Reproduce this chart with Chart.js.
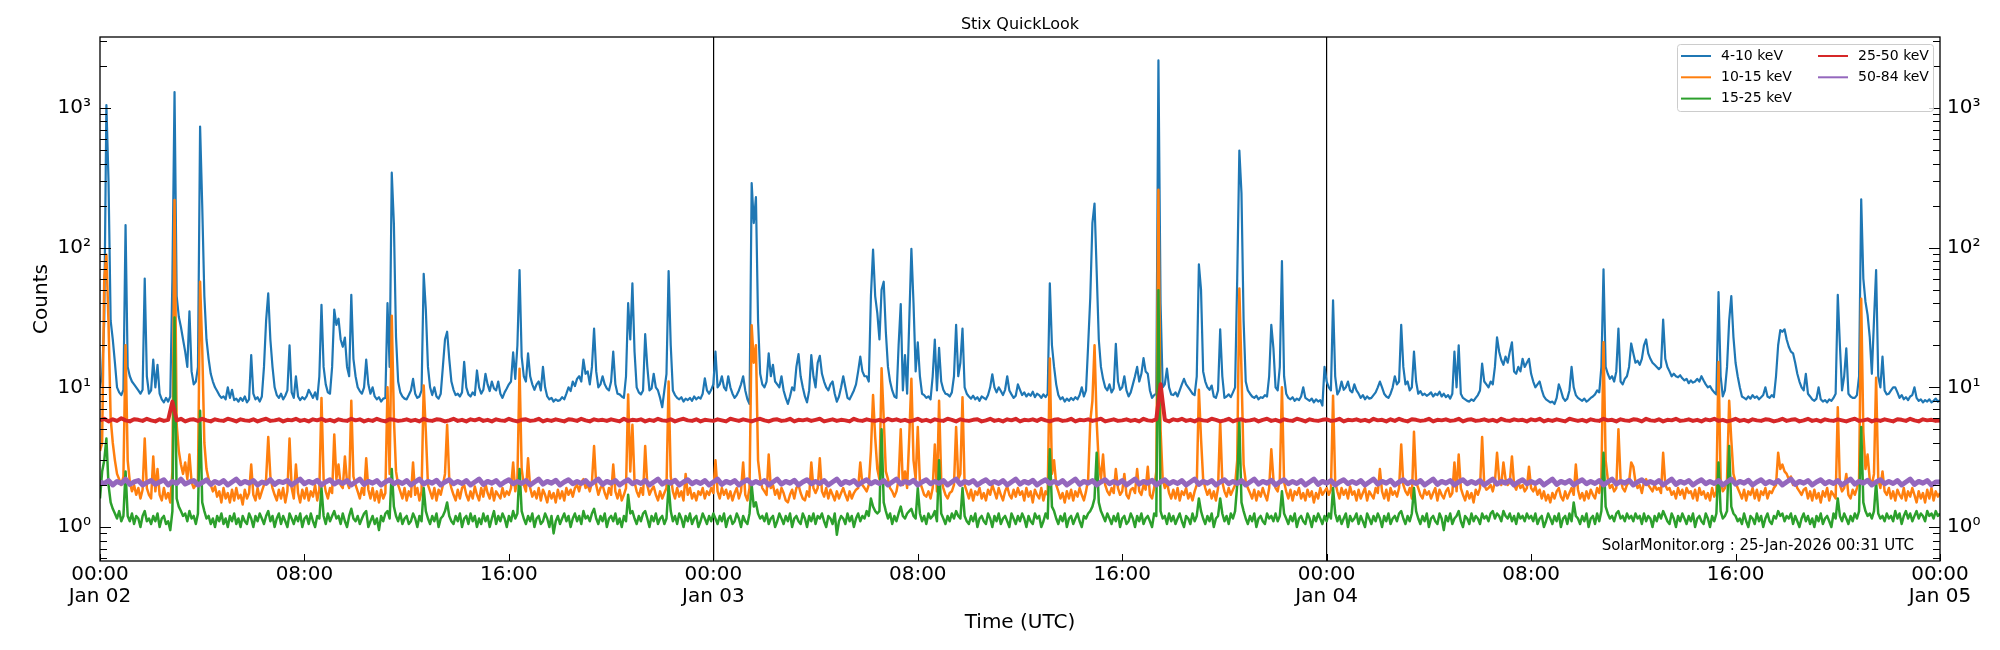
<!DOCTYPE html>
<html><head><meta charset="utf-8">
<script src="https://cdn.jsdelivr.net/npm/chart.js@4.4.1/dist/chart.umd.min.js"></script>
<style>html,body{margin:0;padding:0;background:#fff}#wrap{width:2000px;height:650px;position:relative}</style>
</head><body><div id="wrap"><canvas id="c"></canvas></div>
<script>
// ---- data: samples from Jan 02 00:00 UTC; one row = 2 hours ----
const seriesLabels = ['4-10 keV','10-15 keV','15-25 keV','25-50 keV','50-84 keV'];
const fastStepMinutes = 5;   // 4-10, 10-15, 15-25 keV
const slowStepMinutes = 10;  // 25-50, 50-84 keV
const counts4to10 = [
10,12.5,30,1050,300,30,22,15,10,9.2,8.8,9.6,145,14,12,11,10.5,10,9.5,9,9.6,60,12,9,
9.5,15.8,10,14.5,9,8.2,7.8,8.4,7.9,8.6,60,1300,45,32,27,22,18,14,35,13,10.5,11,14,735,
200,45,22,16,12.5,11,10,9.4,8.8,8.4,8.6,8.2,10,8.4,9.6,8.1,8.3,7.9,8.4,8.0,8.6,7.8,8.2,17,
9,8.2,8.5,7.9,8.6,14,30,47,22,14,10,8.8,8.4,9,8.2,8.7,9.5,20,9.2,8.4,12,8.6,8.1,8.5,
8.2,8.6,9.6,9,8.4,9.2,8.2,12,39,14,10.5,9.2,9,14,36,28,31,22,19.5,22.7,14,12,46,16,
12,10,9.4,9,10,15.8,10.5,9,10,8.6,8.2,8.5,7.9,8.3,8.4,40,14,344,148,23,11,9.2,8.6,8.3,
8.2,8.8,9.5,11.5,9,8.4,8.6,9.5,65,36,14,10,8.8,10,8.6,8.3,9,14,22,25,16,11,9.6,8.8,
9,8.6,9.2,15.2,10,8.9,8.6,9.2,8.8,13.2,10,9,9.6,12.5,10.5,9.4,11,9.8,9.5,11,9,8.4,9.2,9.8,
10.5,11,17.8,11.5,20,69,16.6,12,11,17.5,12,10.5,9.6,10.5,11,9.5,14,10,8.6,8.2,8.4,7.9,8.2,8.0,
8.1,8.5,8.2,9,10,9.4,11,10.2,11.5,12,11,15.8,12.5,13,10.5,14,26.3,13,10,10.5,12,10.5,9.8,9.5,
11,18,10.5,9,8.9,8.6,8.4,12,40,22,55.5,18,10,9.2,8.9,9.5,24,14,9.5,9.8,12.5,10,9.5,8.4,
7.2,9.5,12.5,68,20,9.5,8.8,8.4,8.2,8.5,7.9,8.3,8.1,8.4,8.0,8.6,8.2,8.5,8.3,9,11.6,9.5,9,9.6,
10.5,18,10,10.5,12,10,9.5,12,10,9,8.4,8.8,9.5,10.5,12,9.5,8.2,7.6,290,150,230,30,12.5,10.5,
10,11,17.5,12,14.5,11,10.5,10,12,9.5,8.4,7.6,8.6,10,9.5,14,17.3,12,10,8.6,7.8,9.5,17,12,
10,15,16.8,12.5,11,10,9.5,10.5,11,9,7.9,8.6,10,12,10,8.4,8.2,8.8,9.5,10.5,13,16.6,13,12,
12,11,45,97,45,34,22,50,57,25,14,11,9.5,8.6,8.4,20,39.5,9.5,17,9,30,98,40,13,
21,12,9,8.8,8.4,8.6,8.2,12,22,9.5,19.2,11,9.6,9,8.9,8.6,9.2,12,28,12,15,26.3,10,9,
8.6,8.3,8.7,8.2,8.5,8.0,8.6,8.4,8.2,8.8,10,12.4,10,9.2,10,9.4,8.8,9.6,12,9.5,8.9,8.4,8.7,10.5,
9.6,8.8,9.2,8.6,9,8.7,9.3,8.5,9,8.8,8.4,8.9,8.5,9,55.5,20,14,10.5,8.8,8.2,8.5,7.9,8.3,8.0,
8.4,8.1,8.5,8.2,8.8,10,8.6,9.5,20,44,150,207,68,22,14,11.5,10,9.5,10.5,9.2,9.8,20.5,11,9.6,
10,12,9.5,8.6,9.2,10.5,12,14,11,12.5,16.2,13,12.5,9.5,8.4,8.8,9,2190,40,10,10.5,13.6,10,8.9,
8.8,9.2,8.6,9.5,10.5,11.5,10.5,10,9.5,9,8.8,12,76,50,13,11,10,9.6,10.3,8.6,8.4,9.5,26,12,
8.4,8.6,8.9,8.5,9.2,10,60,495,245,30,11,9.5,9,8.6,8.4,8.7,8.2,8.5,8.4,8.8,8.6,12,28,19,
10,9.5,14,80,12,9,8.4,8.2,8.5,8.0,8.3,8.1,8.6,10,8.4,8.2,8.0,8.3,7.8,8.2,7.9,8.1,7.4,14,
11,10,9.5,42,12,8.9,9.5,11,9.6,10,11,9.5,9.2,10.5,9.5,9,8.4,8.8,8.2,8.6,8.3,8.4,8.8,9.2,
10,11,10,9,8.6,8.4,9,10,12,10.5,11,28,14,10.5,11,9.5,10,18,11,9,9.4,8.8,9,8.7,
8.9,9.2,8.6,9,8.8,9.3,8.6,9,8.5,8.8,8.3,9,18,10,20,9,8.4,8.2,8.0,7.9,8.2,8.0,8.4,8.8,
9.5,14.8,11,10.5,10,11,10.5,14,22.8,18,15.7,14.5,16.6,15,18,21,13,12.5,14,13,16,14,15,16,
12.5,11,10,10.5,11,9.6,8.6,8.2,8.0,7.8,7.9,7.6,8.4,10.5,9.5,8.4,8.0,8.3,9.5,14,10,8.8,8.4,8.2,
8.0,8.3,7.9,8.1,8.4,8.6,8.9,9.5,9.2,14,70,14,12.5,11.5,12,11,13,26.3,11,10.5,11.5,12,14,20.6,
17.5,15,15.5,14.5,16,20,22,17.5,16,15,14.5,14,13.5,14,30.5,16,14,13,12,12.5,12,11.8,12.2,11.6,
11.2,11.5,10.7,11.2,10.8,11,11.5,11,12,11.2,10.5,10,10.2,9.6,9.2,8.9,48,12,8.6,9.5,14,30,45,23,
15,12,10,8.6,8.4,8.2,8.6,8.3,8.8,8.4,8.6,8.2,8.5,8.8,10,8.6,8.4,8.8,8.5,12,20,25.7,25,26,
22,19.5,18,17.5,15,12.5,11,10,9.5,12.5,9,8.6,8.2,8.0,8.3,10,8.2,7.9,8.1,7.8,8.2,8.0,8.4,9,
46,20,9.5,12,19,9,8.6,8.4,8.4,8.8,12,222,60,41,33,23,12.5,30,69,12,10,16.6,9.5,8.9,
9,9.5,10,10,9.2,8.4,8.8,8.2,8.5,8.1,8.6,8.8,10,8.4,8.0,8.2,7.8,8.1,7.9,8.2,7.8,8.0,8.3,7.9,
8.1];
const counts10to15 = [
3.5,4,60,89,29,6,4,3,2.4,2.2,2.0,2.3,20,3,2.1,1.8,2.0,1.7,1.9,1.6,1.85,4.3,1.9,1.7,
1.6,3.2,1.8,2.6,1.7,1.55,1.9,1.6,1.75,1.5,2.5,219,5.4,3.5,2.8,2.4,2.9,2.2,3.3,2.1,1.9,2.0,2.2,57,
19,4,2.6,2.2,2.0,1.8,1.95,1.65,1.8,1.5,1.9,1.6,1.75,1.5,1.85,1.55,1.9,1.6,1.7,1.45,1.85,1.6,1.75,2.8,
1.7,1.55,1.9,1.6,1.8,2.0,2.2,4.4,2.3,1.9,1.7,1.55,1.85,1.6,1.9,1.5,1.8,4.3,1.9,1.6,2.8,1.75,1.5,1.85,
1.6,1.9,1.55,1.8,1.65,2.0,1.55,1.85,8.4,2.2,1.8,1.6,1.9,1.75,4.6,2.2,2.8,2.0,1.9,3.2,2.1,1.9,8.0,2.3,
2.0,1.8,1.6,1.9,1.7,3.1,1.85,1.6,1.9,1.55,1.8,1.5,1.85,1.6,1.75,10,2.4,32.5,6,2.5,2.0,1.8,1.6,1.9,
1.55,1.8,1.65,2.9,1.7,1.9,1.55,1.8,10.3,4.8,2.0,1.8,1.6,1.9,1.55,1.85,1.7,2.0,2.4,5.4,2.2,1.9,1.7,1.55,
1.85,1.6,1.9,2.0,1.7,1.55,1.8,1.6,1.95,1.7,1.55,1.9,1.65,2.05,1.75,1.6,1.9,1.55,1.8,1.7,1.6,1.9,1.65,1.8,
1.7,1.9,2.9,1.8,2.2,13.6,2.6,2.0,1.8,3.1,1.9,1.65,1.8,1.6,1.9,1.55,1.85,1.7,1.5,1.8,1.6,1.75,1.5,1.85,
1.6,1.8,1.55,1.9,1.7,1.85,1.65,1.9,2.0,1.8,2.1,2.2,1.9,2.0,1.8,2.1,3.8,2.0,1.7,1.9,2.0,1.75,1.6,1.9,
1.7,2.8,1.8,1.6,1.85,1.55,1.7,1.9,8.9,2.5,5.4,2.1,1.8,1.65,1.9,1.7,3.8,2.0,1.7,1.85,1.95,1.7,1.55,1.8,
1.6,1.75,1.9,11,2.3,1.8,1.6,1.9,1.65,1.8,1.55,2.4,1.7,1.9,1.6,1.75,1.55,1.8,1.7,1.9,1.6,1.8,1.7,1.9,
1.75,3.0,1.8,1.6,1.9,1.7,1.85,1.6,1.8,1.55,1.75,1.9,1.6,1.8,2.9,1.7,1.55,1.9,27.8,15,20,3.0,2.2,1.9,
1.8,1.7,3.3,1.9,2.0,1.7,1.85,1.6,1.9,1.75,1.55,1.5,1.7,1.85,1.6,1.9,2.0,1.75,1.6,1.55,1.8,1.65,2.9,1.9,
1.75,1.9,3.1,1.8,1.65,1.9,1.6,1.85,1.7,1.55,1.8,1.6,1.75,1.9,1.7,1.55,1.8,1.6,1.75,1.85,1.9,2.9,2.0,1.9,
1.8,2.0,3.5,8.8,4.4,2.6,2.2,13.7,6,2.5,2.2,1.9,1.8,1.65,1.8,2.2,5.0,2.0,2.5,1.9,4.4,11.5,3.0,2.2,
5.2,2.1,1.9,1.7,1.65,1.8,1.6,1.9,3.9,1.8,8.0,2.2,1.9,1.7,1.6,1.75,1.8,2.0,5.2,2.2,2.4,8.5,2.0,1.8,
1.6,1.85,1.55,1.8,1.7,1.9,1.6,1.75,1.55,1.85,1.7,2.0,1.8,1.6,1.9,1.7,1.55,1.8,1.95,1.7,1.6,1.85,1.65,1.9,
1.7,1.8,1.55,1.9,1.65,1.8,1.5,1.85,1.7,1.6,1.9,1.55,1.8,1.7,16.1,2.4,3.0,2.0,1.8,1.6,1.75,1.5,1.8,1.6,
1.85,1.55,1.8,1.65,1.9,1.7,1.55,1.8,2.2,5.7,8,20,5.7,2.8,2.2,3.3,2.0,1.8,1.7,1.9,1.75,2.6,1.9,1.7,
1.8,2.4,1.7,1.6,1.85,1.9,1.75,2.6,1.8,1.7,2.0,1.85,2.7,1.7,1.6,1.9,2.5,260,5,2.2,1.9,2.1,1.75,1.6,
1.85,1.6,1.9,1.55,1.8,1.7,1.9,1.6,1.75,1.55,1.8,2.0,9.6,4.3,2.2,1.9,1.7,1.85,1.6,1.8,1.55,1.9,5.7,2.1,
1.8,1.65,1.9,1.7,1.85,2.0,3,51,13,2.8,2.1,1.9,1.75,1.6,1.85,1.55,1.8,1.65,1.9,1.7,1.55,1.9,3.6,2.2,
1.9,1.8,2.2,10,2.1,1.8,1.6,1.85,1.55,1.8,1.7,1.9,1.6,1.75,1.55,1.85,1.65,1.8,1.5,1.75,1.6,1.9,1.7,1.8,
1.9,1.7,1.85,8.7,2.1,1.8,1.6,1.9,1.7,1.85,1.6,1.95,1.7,1.8,1.55,1.85,1.6,1.75,1.9,1.55,1.8,1.7,1.6,1.9,
1.75,2.6,1.8,1.6,1.85,1.55,1.9,1.7,1.8,1.65,1.9,3.9,2.0,1.8,1.7,1.9,1.6,4.8,2.1,1.9,1.7,1.6,1.85,1.7,
1.8,1.6,1.75,1.9,1.55,1.85,1.7,1.6,1.8,1.9,1.65,1.75,2.9,1.8,3.3,1.9,1.7,1.55,1.8,1.6,1.75,1.5,1.85,1.7,
1.9,4.4,2.0,1.85,1.9,2.0,1.8,2.1,3.4,2.2,2.0,2.9,2.2,2.0,2.1,3.2,2.0,1.85,2.1,1.9,2.0,1.8,1.9,2.7,
1.9,1.8,1.95,1.7,1.85,1.6,1.8,1.55,1.7,1.5,1.75,1.6,1.8,1.9,1.65,1.55,1.8,1.6,1.75,1.9,1.7,2.8,1.85,1.6,
1.75,1.55,1.8,1.6,1.85,1.7,1.6,1.9,1.75,2.2,21,3.0,2.2,1.9,2.0,1.8,1.9,5.0,2.2,1.9,1.8,2.0,2.1,2.9,
2.7,2.1,1.9,2.0,1.75,2.1,2.2,2.0,1.9,1.8,2.0,1.85,1.9,1.75,3.4,2.0,1.85,1.9,1.7,1.8,1.6,1.9,1.7,1.85,
1.6,1.9,1.75,1.8,1.6,1.85,1.55,1.9,1.7,1.8,1.6,1.75,1.55,1.9,1.65,1.8,15.2,2.2,1.8,1.9,2.2,8.0,4.2,2.4,
2.1,1.9,1.75,1.6,1.85,1.55,1.8,1.7,1.9,1.6,1.85,1.55,1.8,1.7,1.9,1.6,1.8,1.75,1.9,2.0,3.4,2.6,2.8,2.5,
2.4,2.2,2.3,2.0,2.1,1.9,1.8,1.7,1.85,1.9,1.6,1.8,1.55,1.85,1.6,1.75,1.5,1.8,1.65,1.9,1.55,1.8,1.7,1.6,
7.2,2.0,1.8,1.9,2.4,1.7,1.6,1.85,1.7,1.9,2.2,43,4.8,2.6,3.3,2.2,2.0,2.4,11.7,2.2,1.9,2.5,1.8,1.7,
1.9,1.6,1.8,1.55,1.85,1.7,1.6,1.9,1.55,1.8,1.65,1.9,1.7,1.5,1.8,1.6,1.75,1.5,1.85,1.6,1.9,1.55,1.8,1.65,
1.75];
const counts15to25 = [
1.6,2.5,3,4.3,2.0,1.5,1.35,1.25,1.15,1.3,1.1,1.2,2.5,1.2,1.1,1.25,1.05,1.2,1.15,1.0,1.2,1.3,1.1,1.15,
1.05,1.2,1.1,1.25,1.0,1.15,1.2,1.05,1.1,0.95,1.3,31.6,1.6,1.4,1.3,1.2,1.25,1.1,1.3,1.15,1.2,1.05,1.25,6.8,
1.5,1.3,1.15,1.2,1.05,1.15,1.0,1.2,1.1,1.25,1.05,1.15,1.0,1.2,1.1,1.25,1.05,1.15,1.0,1.2,1.1,1.05,1.25,1.15,
1.0,1.2,1.1,1.25,1.15,1.05,1.2,1.3,1.1,1.2,1.0,1.15,1.25,1.05,1.2,1.1,1.0,1.25,1.15,1.05,1.2,1.1,1.25,1.0,
1.15,1.2,1.05,1.25,1.1,1.0,1.2,1.15,1.9,1.2,1.05,1.25,1.1,1.2,1.3,1.15,1.2,1.05,1.25,1.1,1.0,1.2,1.35,1.15,
1.1,1.2,1.05,1.15,1.25,1.3,1.0,1.1,1.2,1.05,1.15,0.95,1.2,1.1,1.25,1.3,1.15,2.6,1.4,1.2,1.1,1.25,1.05,1.15,
1.2,1.05,1.1,1.25,1.15,1.0,1.2,1.1,1.9,1.3,1.15,1.05,1.2,1.1,1.25,1.0,1.15,1.2,1.3,1.5,1.2,1.1,1.05,1.2,
1.1,1.25,1.0,1.15,1.2,1.05,1.25,1.1,1.2,1.0,1.15,1.05,1.25,1.1,1.2,1.0,1.15,1.3,1.05,1.2,1.1,1.25,1.15,1.0,
1.2,1.1,1.3,1.15,1.25,2.6,1.3,1.15,1.05,1.2,1.1,1.25,1.0,1.15,1.2,1.05,1.1,1.25,1.15,1.0,1.2,0.9,1.1,1.2,
1.05,1.15,1.25,1.1,1.2,1.0,1.15,1.25,1.1,1.2,1.05,1.3,1.15,1.2,1.1,1.25,1.35,1.15,1.05,1.2,1.1,1.25,1.0,1.15,
1.2,1.1,1.25,1.05,1.15,1.0,1.2,1.1,1.7,1.25,1.3,1.15,1.05,1.2,1.1,1.25,1.3,1.15,1.0,1.2,1.1,1.25,1.05,1.15,
1.2,1.05,1.15,2.0,1.3,1.1,1.2,1.05,1.25,1.15,1.0,1.2,1.1,1.25,1.05,1.15,1.2,1.0,1.1,1.25,1.15,1.05,1.2,1.1,
1.25,1.15,1.05,1.2,1.1,1.25,1.0,1.15,1.2,1.05,1.1,1.25,1.15,1.0,1.2,1.1,1.05,1.25,2.0,1.4,1.5,1.25,1.15,1.2,
1.1,1.25,1.05,1.15,1.2,1.0,1.1,1.25,1.15,1.05,1.2,1.1,1.25,1.0,1.15,1.2,1.1,1.05,1.25,1.15,1.0,1.2,1.1,1.25,
1.05,1.2,1.15,1.25,1.1,1.0,1.2,1.15,1.05,1.25,0.88,1.1,1.2,1.15,1.05,1.25,1.1,1.2,1.0,1.15,1.25,1.1,1.2,1.15,
1.3,1.2,1.6,1.4,1.3,1.25,1.3,5.0,1.5,1.3,1.15,1.25,1.05,1.2,1.1,1.25,1.4,1.2,1.15,1.25,1.3,1.35,1.2,1.15,
1.9,1.25,1.1,1.2,1.05,1.25,1.15,1.2,1.3,1.1,3.0,1.25,1.15,1.05,1.2,1.1,1.25,1.15,1.3,1.2,1.15,1.9,1.2,1.1,
1.05,1.2,1.1,1.25,1.0,1.15,1.2,1.1,1.05,1.25,1.15,1.0,1.2,1.1,1.25,1.05,1.15,1.2,1.1,1.0,1.25,1.15,1.05,1.2,
1.1,1.25,1.15,1.0,1.2,1.1,1.05,1.25,1.15,1.2,1.0,1.1,1.25,1.15,3.6,1.4,1.3,1.15,1.05,1.2,1.1,1.25,1.0,1.15,
1.2,1.05,1.15,1.25,1.1,1.0,1.2,1.15,1.25,1.3,1.4,1.6,3.4,1.5,1.3,1.2,1.1,1.25,1.15,1.05,1.2,1.1,1.25,1.0,
1.15,1.2,1.05,1.1,1.25,1.15,1.0,1.2,1.1,1.25,1.05,1.15,1.2,1.1,1.0,1.25,1.2,49.5,1.3,1.15,1.2,1.05,1.25,1.1,
1.2,1.05,1.15,1.25,1.1,1.0,1.2,1.15,1.05,1.25,1.1,1.2,1.6,1.3,1.15,1.05,1.2,1.1,1.25,1.0,1.15,1.2,1.6,1.25,
1.1,1.2,1.05,1.25,1.15,1.3,2.0,5.7,1.5,1.3,1.15,1.05,1.2,1.1,1.25,1.0,1.15,1.2,1.1,1.05,1.25,1.15,1.2,1.1,
1.25,1.1,1.2,1.8,1.25,1.15,1.05,1.2,1.1,1.25,1.0,1.15,1.2,1.1,1.05,1.25,1.15,1.0,1.2,1.1,1.25,1.15,1.05,1.2,
1.1,1.25,1.15,1.9,1.25,1.1,1.2,1.05,1.15,1.25,1.0,1.2,1.1,1.15,1.25,1.05,1.2,1.1,1.0,1.25,1.15,1.05,1.2,1.1,
1.25,1.15,1.0,1.2,1.1,1.25,1.05,1.15,1.2,1.1,1.25,1.3,1.15,1.05,1.2,1.1,1.25,1.9,1.3,1.15,1.05,1.2,1.1,1.25,
1.0,1.15,1.2,1.1,1.05,1.25,1.15,0.95,1.2,1.1,1.25,1.05,1.15,1.2,1.3,1.1,1.0,1.2,1.15,1.05,1.25,1.1,1.2,1.15,
1.05,1.25,1.15,1.2,1.1,1.25,1.3,1.15,1.25,1.2,1.1,1.3,1.2,1.15,1.25,1.1,1.2,1.05,1.25,1.15,1.2,1.1,1.25,1.15,
1.2,1.1,1.25,1.05,1.15,1.2,1.0,1.1,1.25,1.15,1.05,1.2,1.1,1.25,1.0,1.15,1.2,1.05,1.25,1.1,1.5,1.2,1.15,1.05,
1.2,1.1,1.25,1.0,1.15,1.2,1.05,1.25,1.1,1.3,3.4,1.4,1.25,1.15,1.2,1.1,1.25,1.3,1.15,1.2,1.1,1.25,1.15,1.2,
1.1,1.25,1.15,1.2,1.05,1.25,1.1,1.2,1.15,1.0,1.2,1.1,1.25,1.15,1.3,1.2,1.1,1.05,1.25,1.15,1.0,1.2,1.1,1.25,
1.15,1.05,1.2,1.1,1.25,1.0,1.15,1.2,1.1,1.05,1.25,1.15,1.0,1.2,1.1,1.25,2.9,1.3,1.15,1.2,1.3,3.8,1.4,1.25,
1.2,1.1,1.15,1.05,1.25,1.1,1.0,1.2,1.15,1.05,1.25,1.1,1.2,1.0,1.15,1.25,1.1,1.05,1.2,1.15,1.3,1.2,1.25,1.1,
1.2,1.15,1.25,1.05,1.2,1.1,1.0,1.15,1.25,1.1,1.2,1.05,1.15,1.0,1.2,1.1,1.25,1.05,1.15,1.2,1.1,1.0,1.25,1.15,
1.6,1.2,1.1,1.25,1.15,1.05,1.2,1.1,1.25,1.15,1.3,5.2,1.5,1.3,1.2,1.25,1.15,1.3,2.1,1.25,1.15,1.2,1.1,1.25,
1.15,1.2,1.1,1.3,1.15,1.25,1.05,1.2,1.3,1.15,1.25,1.1,1.2,1.3,1.15,1.25,1.2,1.1,1.3,1.2,1.25,1.15,1.3,1.2,
1.25];
const counts25to50 = [
5.8,5.95,5.7,5.9,5.75,6.0,5.8,5.7,5.9,5.85,5.75,5.95,
5.8,5.7,5.9,5.75,5.85,7.9,5.8,5.95,5.7,5.85,5.9,5.75,
5.95,5.8,5.7,5.9,5.8,5.75,5.95,5.85,5.7,5.9,5.8,5.75,
5.9,5.7,5.85,5.95,5.75,5.8,5.9,5.7,5.85,5.8,5.95,5.75,
5.85,5.7,5.9,5.8,5.95,5.75,5.85,5.7,5.9,5.8,5.75,5.95,
5.8,5.9,5.7,5.85,5.75,5.95,5.8,5.7,5.9,5.85,5.75,5.8,
5.9,5.75,5.85,5.7,5.95,5.8,5.75,5.9,5.85,5.7,5.8,5.95,
5.75,5.85,5.7,5.9,5.8,5.95,5.75,5.85,5.7,5.9,5.8,5.75,
5.95,5.8,5.7,5.85,5.9,5.75,5.8,5.95,5.7,5.85,5.75,5.9,
5.8,5.7,5.9,5.85,5.75,5.95,5.8,5.7,5.9,5.8,5.85,5.75,
5.9,5.8,5.7,5.95,5.75,5.85,5.8,5.9,5.7,5.85,5.75,5.95,
5.8,5.75,5.9,5.7,5.85,5.95,5.8,5.75,5.9,5.7,5.85,5.8,
5.75,5.9,5.8,5.7,5.95,5.85,5.75,5.9,5.8,5.7,5.85,5.95,
5.8,5.7,5.85,5.9,5.75,5.8,5.95,5.7,5.85,5.8,5.9,5.75,
5.85,5.95,5.7,5.8,5.9,5.75,5.85,5.8,5.7,5.95,5.8,5.75,
5.9,5.8,5.75,5.85,5.7,5.95,5.8,5.9,5.75,5.85,5.7,5.8,
5.95,5.75,5.85,5.7,5.9,5.8,5.75,5.95,5.85,5.7,5.9,5.8,
5.75,5.85,5.9,5.7,5.8,5.95,5.75,5.85,5.7,5.9,5.8,5.95,
5.7,5.85,5.8,5.9,5.75,5.95,5.8,5.7,5.85,5.9,5.75,5.8,
5.95,5.7,5.85,5.8,5.9,5.75,5.85,5.95,5.7,5.8,5.9,5.75,
5.8,5.9,5.75,5.85,5.7,5.95,5.8,5.75,5.9,10.5,5.85,5.7,
5.9,5.8,5.95,5.75,5.85,5.7,5.9,5.8,5.75,5.95,5.85,5.7,
5.8,5.95,5.7,5.85,5.9,5.75,5.8,5.9,5.7,5.85,5.95,5.75,
5.85,5.7,5.9,5.8,5.75,5.95,5.85,5.7,5.9,5.8,5.75,5.85,
5.9,5.75,5.8,5.95,5.7,5.85,5.8,5.9,5.75,5.85,5.7,5.95,
5.8,5.85,5.7,5.9,5.75,5.95,5.8,5.7,5.9,5.85,5.75,5.8,
5.95,5.7,5.85,5.8,5.9,5.75,5.8,5.95,5.7,5.85,5.9,5.75,
5.8,5.9,5.75,5.85,5.7,5.95,5.8,5.75,5.9,5.8,5.85,5.7,
5.9,5.8,5.95,5.7,5.85,5.75,5.9,5.8,5.7,5.95,5.85,5.75,
5.85,5.7,5.9,5.8,5.75,5.95,5.8,5.85,5.7,5.9,5.8,5.75,
5.9,5.85,5.7,5.95,5.8,5.75,5.9,5.7,5.85,5.8,5.95,5.75,
5.8,5.9,5.75,5.85,5.7,5.9,5.8,5.95,5.75,5.85,5.7,5.8,
5.95,5.75,5.85,5.7,5.9,5.8,5.75,5.9,5.85,5.7,5.8,5.95,
5.75,5.85,5.9,5.7,5.8,5.95,5.75,5.85,5.7,5.9,5.8,5.75,
5.9,5.8,5.7,5.85,5.95,5.75,5.8,5.9,5.7,5.85,5.75,5.9,
5.8,5.7,5.9,5.85,5.75,5.95,5.8,5.7,5.9,5.8,5.85,5.75,
5.8];
const counts50to84 = [
2.1,2.05,2.15,2.0,2.12,2.05,2.2,2.02,2.1,2.15,2.0,2.08,
2.15,2.02,2.1,2.18,2.0,2.12,2.05,2.2,2.03,2.1,2.15,2.0,
2.08,2.18,2.02,2.12,2.05,2.15,2.0,2.1,2.2,2.04,2.12,2.06,
2.15,2.0,2.1,2.05,2.18,2.02,2.12,2.08,2.15,2.0,2.1,2.2,
2.04,2.12,2.06,2.16,2.0,2.1,2.18,2.03,2.12,2.05,2.15,2.0,
2.1,2.2,2.02,2.12,2.06,2.15,2.0,2.1,2.18,2.04,2.12,2.05,
2.15,2.0,2.1,2.2,2.03,2.12,2.06,2.16,2.0,2.1,2.18,2.04,
2.12,2.05,2.15,2.0,2.1,2.2,2.02,2.12,2.06,2.15,2.0,2.1,
2.18,2.04,2.12,2.05,2.15,2.0,2.1,2.2,2.03,2.12,2.06,2.16,
2.0,2.1,2.18,2.04,2.12,2.05,2.15,2.0,2.1,2.2,2.02,2.12,
2.06,2.15,2.0,2.1,2.18,2.04,2.12,2.05,2.15,2.0,2.1,2.2,
2.03,2.12,2.06,2.16,2.0,2.1,2.18,2.04,2.12,2.05,2.15,2.0,
2.1,2.2,2.02,2.12,2.06,2.15,2.0,2.1,2.18,2.04,2.12,2.05,
2.15,2.0,2.1,2.2,2.03,2.12,2.06,2.16,2.0,2.1,2.18,2.04,
2.12,2.05,2.15,2.0,2.1,2.2,2.02,2.12,2.06,2.15,2.0,2.1,
2.18,2.04,2.12,2.05,2.15,2.0,2.1,2.2,2.03,2.12,2.06,2.16,
2.0,2.1,2.18,2.04,2.12,2.05,2.15,2.0,2.1,2.2,2.02,2.12,
2.06,2.15,2.0,2.1,2.18,2.04,2.12,2.05,2.15,2.0,2.1,2.2,
2.03,2.12,2.06,2.16,2.0,2.1,2.18,2.04,2.12,2.05,2.15,2.0,
2.1,2.2,2.02,2.12,2.06,2.15,2.0,2.1,2.18,2.04,2.12,2.05,
2.15,2.0,2.1,2.2,2.03,2.12,2.06,2.16,2.0,2.1,2.18,2.04,
2.12,2.05,2.15,2.0,2.1,2.2,2.02,2.12,2.06,2.15,2.0,2.1,
2.18,2.04,2.12,2.05,2.15,2.0,2.1,2.2,2.03,2.12,2.06,2.16,
2.0,2.1,2.18,2.04,2.12,2.05,2.15,2.0,2.1,2.2,2.02,2.12,
2.06,2.15,2.0,2.1,2.18,2.04,2.12,2.05,2.15,2.0,2.1,2.2,
2.03,2.12,2.06,2.16,2.0,2.1,2.18,2.04,2.12,2.05,2.15,2.0,
2.1,2.2,2.02,2.12,2.06,2.15,2.0,2.1,2.18,2.04,2.12,2.05,
2.15,2.0,2.1,2.2,2.03,2.12,2.06,2.16,2.0,2.1,2.18,2.04,
2.12,2.05,2.15,2.0,2.1,2.2,2.02,2.12,2.06,2.15,2.0,2.1,
2.18,2.04,2.12,2.05,2.15,2.0,2.1,2.2,2.03,2.12,2.06,2.16,
2.0,2.1,2.18,2.04,2.12,2.05,2.15,2.0,2.1,2.2,2.02,2.12,
2.06,2.15,2.0,2.1,2.18,2.04,2.12,2.05,2.15,2.0,2.1,2.2,
2.03,2.12,2.06,2.16,2.0,2.1,2.18,2.04,2.12,2.05,2.15,2.0,
2.1,2.2,2.02,2.12,2.06,2.15,2.0,2.1,2.18,2.04,2.12,2.05,
2.15,2.0,2.1,2.2,2.03,2.12,2.06,2.16,2.0,2.1,2.18,2.04,
2.12,2.05,2.15,2.0,2.1,2.2,2.02,2.12,2.06,2.15,2.0,2.1,
2.1];
const xTickValues = [0,8,16,24,32,40,48,56,64,72];
const xTickLabels = [['00:00','Jan 02'],'08:00','16:00',['00:00','Jan 03'],'08:00','16:00',['00:00','Jan 04'],'08:00','16:00',['00:00','Jan 05']];
const dayLines = [24,48];
const yMajorValues = [1,10,100,1000];
const yTickLabels = ['10⁰','10¹','10²','10³'];
const yMinorValues = [0.6,0.7,0.8,0.9,2,3,4,5,6,7,8,9,20,30,40,50,60,70,80,90,200,300,400,500,600,700,800,900,2000,3000];
const yRange = [0.571, 3220];
const xRange = [0, 72];
const titleText = 'Stix QuickLook';
const footText = 'SolarMonitor.org : 25-Jan-2026 00:31 UTC';

// ---- build ----
const colors = ['#1f77b4','#ff7f0e','#2ca02c','#d62728','#9467bd'];
const allSeries = [counts4to10, counts10to15, counts15to25, counts25to50, counts50to84];
const steps = [fastStepMinutes, fastStepMinutes, fastStepMinutes, slowStepMinutes, slowStepMinutes];
const widths = [2.2, 2.5, 2.5, 4, 5];
const toPoints = (arr, step) => arr.map((v, i) => ({x: i * step / 60, y: v}));
Chart.defaults.font.family = "'DejaVu Sans', sans-serif";
Chart.defaults.color = '#000';

const datasets = allSeries.map((arr, k) => ({
  label: seriesLabels[k], data: toPoints(arr, steps[k]), borderColor: colors[k], backgroundColor: colors[k],
  borderWidth: widths[k], pointRadius: 0, tension: 0, fill: false, borderJoinStyle: 'round',
  order: 5 - k
}));

const deco = {
  id: 'deco',
  afterDraw(chart) {
    const {ctx, chartArea: a, scales: {x, y}} = chart;
    ctx.save();
    ctx.strokeStyle = '#000';
    ctx.lineWidth = 1;
    ctx.beginPath();
    y.ticks.forEach(t => {
      const py = Math.round(y.getPixelForValue(t.value)) + 0.5;
      const len = yMajorValues.includes(t.value) ? 11 : 7;
      ctx.moveTo(a.left, py); ctx.lineTo(a.left + len, py);
      ctx.moveTo(a.right, py); ctx.lineTo(a.right - len, py);
    });
    xTickValues.forEach(v => {
      const px = Math.round(x.getPixelForValue(v)) + 0.5;
      ctx.moveTo(px, a.bottom); ctx.lineTo(px, a.bottom - 7);
    });
    ctx.stroke();
    ctx.lineWidth = 1.3;
    ctx.strokeRect(a.left, a.top, a.right - a.left, a.bottom - a.top);
    ctx.fillStyle = '#000';
    ctx.font = "16px 'DejaVu Sans'";
    ctx.textAlign = 'center'; ctx.textBaseline = 'alphabetic';
    ctx.fillText(titleText, (a.left + a.right) / 2, 29);
    ctx.font = "15px 'DejaVu Sans'";
    ctx.textAlign = 'right';
    ctx.fillText(footText, a.right - 26, a.bottom - 11);
    const lx = a.right - 263, ly = a.top + 7, lw = 256, lh = 67;
    ctx.beginPath();
    if (ctx.roundRect) ctx.roundRect(lx + 0.5, ly + 0.5, lw, lh, 3); else ctx.rect(lx + 0.5, ly + 0.5, lw, lh);
    ctx.fillStyle = 'rgba(255,255,255,0.8)'; ctx.fill();
    ctx.strokeStyle = '#cccccc'; ctx.lineWidth = 1; ctx.stroke();
    ctx.font = "14px 'DejaVu Sans'";
    ctx.textAlign = 'left'; ctx.textBaseline = 'middle';
    const cols = [lx + 4, lx + 141];
    chart.data.datasets.forEach((ds, k) => {
      const c = k < 3 ? 0 : 1, r = k < 3 ? k : k - 3;
      const yy = ly + 12 + r * 21.3;
      ctx.strokeStyle = ds.borderColor; ctx.lineWidth = 2;
      ctx.beginPath(); ctx.moveTo(cols[c], yy); ctx.lineTo(cols[c] + 30, yy); ctx.stroke();
      ctx.fillStyle = '#000';
      ctx.fillText(ds.label, cols[c] + 40, yy);
    });
    ctx.restore();
  }
};

const yScaleBase = {
  type: 'logarithmic', min: yRange[0], max: yRange[1],
  grid: {display: false, drawTicks: false},
  border: {display: false},
  afterBuildTicks: s => { s.ticks = yMinorValues.concat(yMajorValues).sort((p, q) => p - q).map(v => ({value: v})); },
  ticks: {
    autoSkip: false, font: {size: 20},
    callback: v => { const i = yMajorValues.indexOf(v); return i >= 0 ? yTickLabels[i] : ''; }
  }
};

new Chart(document.getElementById('c'), {
  type: 'line',
  data: {datasets},
  options: {
    responsive: true, maintainAspectRatio: false, animation: false, devicePixelRatio: 1,
    layout: {padding: {top: 37, left: 0, right: 0, bottom: 0}},
    plugins: {legend: {display: false}, tooltip: {enabled: false}, title: {display: false}},
    scales: {
      x: {
        type: 'linear', min: xRange[0], max: xRange[1],
        afterBuildTicks: s => { s.ticks = xTickValues.map(v => ({value: v})); },
        afterFit: s => { s.height = 89; },
        grid: {drawTicks: false, lineWidth: 1.2, color: c => (c.tick && dayLines.includes(c.tick.value)) ? '#000' : 'rgba(0,0,0,0)'},
        border: {display: false},
        ticks: {autoSkip: false, maxRotation: 0, padding: 3, font: {size: 20, lineHeight: 1.1},
          callback: v => xTickLabels[xTickValues.indexOf(v)]},
        title: {display: true, text: 'Time (UTC)', font: {size: 20, lineHeight: 1.2}, padding: {top: 0, bottom: 15}}
      },
      y: Object.assign({}, yScaleBase, {
        position: 'left',
        afterFit: s => { s.width = 100; },
        ticks: Object.assign({}, yScaleBase.ticks, {padding: 9}),
        title: {display: true, text: 'Counts', font: {size: 20, lineHeight: 1.2}, padding: {top: 30, bottom: 0}}
      }),
      y2: Object.assign({}, yScaleBase, {
        position: 'right',
        afterFit: s => { s.width = 60; },
        ticks: Object.assign({}, yScaleBase.ticks, {padding: 7})
      })
    }
  },
  plugins: [deco]
});
</script>
</body></html>
